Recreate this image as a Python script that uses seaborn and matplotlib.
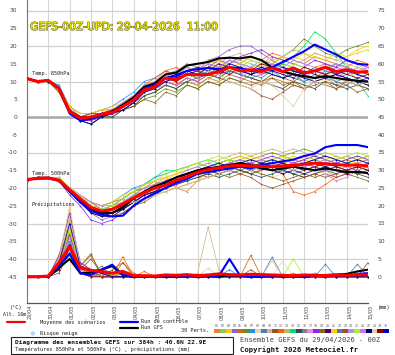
import matplotlib
matplotlib.use('Agg')
import matplotlib.pyplot as plt
import seaborn as sns
from matplotlib.lines import Line2D
from matplotlib.patches import Rectangle
import matplotlib.patheffects as pe

# ---------------- data ----------------
HOURS = list(range(0, 385, 12))
DATES = ['29/04', '30/04', '01/05', '02/05', '03/05', '04/05', '05/05', '06/05', '07/05',
         '08/05', '09/05', '10/05', '11/05', '12/05', '13/05', '14/05', '15/05']
MEMBERS = ['%02d' % i for i in range(1, 31)]
PERT_COLORS = ['#f08030', '#90c860', '#f0d000', '#9060d0', '#d06818', '#6b8e23', '#1e90ff', '#e8d8a8',
               '#4682b4', '#d2b48c', '#8b5a2b', '#ff6010', '#c8b860', '#00e070', '#2f4f4f', '#808080',
               '#ee82ee', '#8a2be2', '#8b6914', '#4b0082', '#ffd000', '#5080b0', '#a0522d', '#b090f0',
               '#a8f030', '#da70d6', '#000080', '#e0d0a0', '#8b0000', '#0000cd']

MEAN_850 = [10.8, 10.0, 10.3, 8.0, 1.5, -0.3, 0.0, 0.8, 1.2, 3.0, 4.8, 7.6, 8.5, 11.0, 10.5, 12.0, 11.9,
            12.0, 12.8, 14.0, 13.0, 13.3, 12.8, 13.8, 12.8, 13.8, 12.4, 13.0, 14.0, 12.8, 13.3, 12.6, 12.8]
CTRL_850 = [10.8, 10.0, 10.3, 8.2, 1.0, -1.0, -0.5, 0.5, 1.0, 3.0, 5.0, 8.0, 9.0, 11.0, 11.5, 13.0, 13.5,
            13.8, 13.5, 14.0, 13.8, 13.0, 13.2, 14.0, 15.5, 17.0, 18.5, 20.4, 19.0, 17.6, 16.0, 15.0, 14.7]
GFS_850 = [10.8, 10.0, 10.3, 8.0, 1.5, 0.0, -0.5, 0.5, 1.5, 3.5, 5.5, 8.5, 9.5, 12.0, 12.5, 14.5, 15.0,
           15.5, 16.5, 16.7, 16.5, 17.0, 16.0, 14.0, 12.8, 12.0, 11.5, 11.0, 11.5, 11.0, 10.5, 10.2, 10.0]

MEAN_500 = [-17.6, -17.3, -17.2, -17.8, -20.5, -23.0, -25.5, -26.5, -26.0, -24.5, -22.8, -21.3, -20.0,
            -19.2, -17.8, -16.8, -15.6, -14.8, -14.3, -13.8, -13.6, -13.8, -13.9, -14.0, -13.8, -13.6,
            -13.3, -13.0, -13.2, -13.4, -13.6, -13.5, -13.8]
CTRL_500 = [-17.6, -17.3, -17.2, -18.0, -21.0, -24.0, -26.5, -27.5, -28.0, -27.8, -25.0, -23.0, -21.5,
            -20.0, -18.5, -17.5, -16.0, -15.5, -15.0, -14.5, -14.0, -14.5, -13.5, -13.0, -12.5, -12.0,
            -11.0, -10.3, -8.5, -7.9, -7.9, -7.9, -8.5]
GFS_500 = [-17.6, -17.3, -17.2, -17.8, -20.5, -23.5, -26.0, -27.0, -27.0, -25.5, -23.0, -21.0, -19.5,
           -18.5, -17.0, -16.0, -15.0, -14.5, -14.0, -13.5, -13.0, -13.5, -14.5, -15.0, -14.5, -14.0,
           -14.5, -15.0, -14.5, -15.0, -15.5, -15.5, -15.8]

MEAN_PRECIP = [0.0, 0.0, 0.2, 4.0, 8.5, 2.5, 1.8, 1.5, 1.0, 1.5, 0.3, 0.3, 0.2, 0.5, 0.4, 0.6, 0.3,
               0.5, 0.8, 0.6, 0.5, 0.7, 0.6, 0.5, 0.4, 0.3, 0.5, 0.4, 0.3, 0.5, 0.4, 0.6, 0.5]
CTRL_PRECIP = [0, 0, 0, 3.0, 6.5, 1.0, 0.5, 2.0, 3.4, 0.5, 0, 0, 0, 0.2, 0, 0, 0.5, 0.3, 0.2, 5.0,
               0.3, 0, 0.2, 0, 0.5, 0, 0, 0.3, 0, 0.5, 0.2, 0.8, 1.0]
GFS_PRECIP = [0, 0, 0, 2.5, 5.0, 1.0, 1.2, 2.0, 3.0, 0.4, 0, 0, 0.2, 0, 0, 0.3, 0, 0.2, 0, 0.5, 0.3,
              0, 0, 0.4, 0, 0.2, 0, 0.3, 0.5, 0.6, 0.8, 1.5, 2.0]

T850_PERTS = [
    [11, 10, 10, 8, 3, 0, 1, 2, 2, 4, 6, 9, 10, 13, 11, 13, 12, 14, 13, 15, 14, 12, 13, 15, 14, 13, 12, 14, 15, 13, 12, 14, 13],
    [11, 10, 10, 9, 2, -1, 0, 1, 2, 3, 5, 8, 8, 10, 11, 12, 13, 12, 14, 15, 16, 15, 14, 13, 15, 14, 13, 12, 14, 15, 13, 12, 11],
    [11, 10, 10, 8, 2, 0, 0, 1, 1, 3, 5, 7, 9, 11, 10, 13, 12, 14, 15, 13, 14, 16, 15, 14, 15, 17, 16, 18, 17, 16, 17, 18, 19],
    [11, 10, 10, 8, 1, -1, -2, 0, 1, 2, 4, 7, 9, 11, 12, 14, 13, 16, 17, 19, 20, 20, 18, 16, 14, 13, 12, 13, 12, 14, 13, 12, 11],
    [11, 10, 10, 8, 2, 0, 1, 1, 2, 3, 5, 8, 9, 10, 9, 10, 9, 11, 10, 12, 11, 10, 9, 11, 10, 9, 8, 10, 11, 9, 10, 9, 8],
    [11, 10, 10, 7, 1, -1, 0, 0, 0, 2, 3, 5, 6, 8, 7, 9, 8, 10, 9, 11, 10, 12, 13, 15, 17, 19, 22, 20, 18, 17, 19, 20, 21],
    [11, 10, 10, 9, 3, 1, 1, 2, 3, 5, 7, 10, 11, 13, 12, 15, 14, 13, 14, 16, 15, 14, 13, 15, 14, 13, 12, 14, 13, 15, 14, 13, 12],
    [11, 10, 10, 8, 2, 0, 0, 1, 2, 3, 6, 9, 10, 12, 11, 13, 14, 12, 13, 14, 12, 11, 10, 9, 8, 10, 9, 11, 10, 12, 11, 10, 9],
    [11, 10, 10, 8, 2, -1, -1, 0, 1, 3, 4, 7, 8, 11, 10, 12, 11, 13, 12, 14, 13, 12, 11, 13, 12, 11, 10, 12, 11, 10, 9, 11, 10],
    [11, 10, 10, 8, 3, 0, 1, 2, 2, 4, 5, 8, 10, 12, 13, 15, 14, 16, 15, 17, 18, 16, 15, 17, 16, 15, 16, 18, 17, 16, 15, 14, 13],
    [11, 10, 10, 8, 1, -1, 0, 1, 1, 2, 4, 6, 7, 9, 8, 10, 9, 11, 12, 13, 12, 11, 10, 12, 11, 10, 12, 11, 13, 12, 14, 13, 12],
    [11, 10, 10, 8, 2, 0, 0, 1, 2, 4, 6, 9, 11, 13, 14, 12, 13, 15, 14, 16, 15, 17, 16, 18, 17, 16, 15, 17, 16, 15, 14, 16, 15],
    [11, 10, 10, 8, 2, 0, 0, 1, 1, 3, 5, 7, 8, 9, 8, 10, 9, 11, 10, 12, 13, 14, 15, 16, 17, 19, 18, 16, 15, 14, 16, 15, 13],
    [11, 10, 10, 8, 2, -1, 0, 1, 2, 3, 5, 8, 9, 11, 10, 12, 11, 13, 12, 13, 14, 13, 12, 13, 15, 17, 20, 24, 22, 18, 14, 10, 6],
    [11, 10, 10, 8, 1, -1, -2, 0, 0, 2, 3, 6, 7, 9, 8, 10, 11, 12, 11, 13, 12, 11, 10, 9, 8, 10, 9, 8, 10, 9, 8, 9, 10],
    [11, 10, 10, 8, 2, 0, 1, 1, 2, 3, 5, 8, 9, 11, 10, 12, 13, 12, 14, 13, 12, 14, 13, 12, 11, 13, 12, 13, 12, 11, 12, 13, 12],
    [11, 10, 10, 8, 2, 0, 0, 1, 2, 4, 6, 8, 10, 12, 11, 14, 13, 15, 14, 16, 15, 13, 14, 15, 13, 12, 14, 13, 15, 14, 13, 12, 14],
    [11, 10, 10, 8, 1, -1, -1, 0, 1, 2, 4, 7, 8, 10, 11, 13, 12, 14, 16, 15, 17, 18, 19, 17, 16, 15, 14, 16, 15, 14, 16, 15, 14],
    [11, 10, 10, 7, 1, -1, 0, 0, 1, 2, 3, 5, 4, 7, 6, 9, 8, 10, 9, 11, 10, 9, 10, 11, 9, 10, 8, 9, 10, 8, 9, 7, 8],
    [11, 10, 10, 8, 2, 0, 0, 1, 2, 3, 5, 8, 9, 11, 12, 13, 14, 13, 15, 14, 13, 12, 14, 13, 12, 11, 13, 12, 11, 12, 11, 10, 11],
    [11, 10, 10, 8, 3, 1, 1, 2, 3, 4, 6, 9, 10, 12, 13, 14, 13, 15, 16, 14, 15, 17, 16, 15, 17, 16, 18, 17, 16, 18, 17, 19, 20],
    [11, 10, 10, 8, 2, 0, 0, 1, 1, 3, 5, 7, 8, 10, 9, 11, 10, 12, 11, 13, 12, 11, 12, 13, 11, 12, 10, 11, 12, 10, 11, 10, 9],
    [11, 10, 10, 8, 2, 0, 1, 1, 2, 3, 5, 8, 9, 10, 9, 11, 10, 12, 11, 10, 9, 8, 6, 5, 7, 9, 8, 10, 9, 8, 10, 9, 8],
    [11, 10, 10, 8, 2, 0, 0, 1, 2, 4, 6, 9, 10, 12, 13, 14, 13, 15, 14, 16, 15, 14, 16, 15, 14, 16, 15, 14, 13, 15, 14, 13, 14],
    [11, 10, 10, 8, 2, 0, 0, 1, 2, 3, 5, 8, 9, 11, 10, 12, 12, 14, 13, 15, 14, 16, 15, 14, 13, 15, 14, 13, 14, 12, 13, 12, 11],
    [11, 10, 10, 8, 2, -1, 0, 1, 1, 3, 5, 7, 8, 10, 9, 11, 10, 12, 13, 12, 11, 13, 12, 14, 13, 12, 11, 13, 12, 11, 13, 12, 11],
    [11, 10, 10, 8, 1, -1, -2, 0, 1, 2, 4, 7, 8, 10, 11, 12, 11, 13, 12, 14, 13, 12, 13, 12, 11, 12, 11, 10, 11, 12, 11, 10, 9],
    [11, 10, 10, 8, 2, 0, 0, 1, 2, 3, 5, 8, 9, 11, 10, 12, 11, 13, 12, 10, 9, 8, 10, 9, 6, 3, 8, 10, 9, 11, 10, 9, 10],
    [11, 10, 10, 8, 2, 0, 0, 1, 2, 3, 5, 8, 9, 11, 10, 12, 13, 14, 13, 12, 14, 13, 15, 14, 13, 12, 14, 13, 12, 13, 12, 11, 12],
    [11, 10, 10, 8, 2, -1, 0, 1, 1, 3, 5, 8, 9, 11, 12, 13, 12, 14, 13, 15, 14, 13, 14, 13, 14, 13, 12, 13, 14, 12, 13, 12, 11],
]

T500_PERTS = [
    [-18, -17, -17, -18, -20, -22, -24, -26, -25, -23, -21, -20, -18, -17, -20, -21, -18, -15, -14, -13, -12, -13, -12, -13, -14, -13, -12, -11, -12, -13, -12, -13, -12],
    [-18, -17, -17, -18, -21, -23, -26, -27, -26, -24, -22, -21, -19, -18, -17, -16, -15, -14, -13, -14, -13, -12, -13, -14, -13, -12, -13, -14, -13, -12, -13, -14, -15],
    [-18, -17, -17, -18, -20, -23, -25, -26, -25, -24, -22, -20, -19, -18, -16, -15, -14, -15, -14, -13, -12, -11, -12, -13, -12, -11, -12, -13, -12, -11, -12, -13, -12],
    [-18, -17, -17, -18, -21, -24, -27, -29, -28, -26, -24, -22, -21, -20, -18, -17, -16, -15, -14, -13, -14, -15, -14, -13, -14, -15, -14, -13, -14, -15, -14, -15, -16],
    [-18, -17, -17, -18, -20, -22, -24, -25, -24, -23, -21, -20, -19, -18, -17, -16, -15, -14, -15, -14, -15, -16, -15, -14, -15, -14, -13, -14, -15, -14, -15, -14, -15],
    [-18, -17, -17, -18, -21, -23, -26, -27, -27, -25, -23, -22, -20, -19, -18, -16, -15, -14, -13, -12, -11, -12, -11, -10, -11, -10, -9, -10, -11, -12, -11, -12, -13],
    [-18, -17, -17, -17, -20, -22, -24, -25, -24, -22, -20, -19, -17, -16, -15, -14, -13, -14, -13, -12, -13, -14, -13, -12, -13, -14, -13, -12, -13, -12, -13, -12, -11],
    [-18, -17, -17, -18, -21, -23, -25, -27, -27, -26, -24, -22, -21, -19, -18, -17, -16, -15, -16, -15, -14, -15, -16, -17, -16, -15, -14, -15, -14, -15, -16, -15, -14],
    [-18, -17, -17, -18, -20, -23, -25, -26, -26, -25, -23, -21, -20, -19, -18, -17, -15, -14, -13, -14, -15, -14, -13, -14, -15, -16, -15, -14, -13, -14, -15, -14, -13],
    [-18, -17, -17, -18, -21, -24, -26, -27, -26, -24, -23, -21, -20, -18, -17, -16, -15, -14, -13, -12, -13, -12, -11, -12, -13, -12, -11, -12, -13, -12, -11, -12, -13],
    [-18, -17, -17, -18, -20, -23, -25, -26, -27, -26, -24, -23, -21, -20, -19, -18, -17, -16, -15, -14, -15, -16, -15, -14, -15, -16, -17, -16, -15, -14, -15, -16, -15],
    [-18, -17, -17, -18, -20, -22, -24, -26, -25, -23, -21, -19, -18, -20, -19, -17, -16, -15, -14, -13, -14, -13, -14, -13, -16, -21, -22, -21, -19, -17, -16, -15, -14],
    [-18, -17, -17, -18, -21, -23, -25, -26, -25, -24, -22, -20, -19, -17, -16, -15, -14, -13, -12, -11, -10, -11, -10, -9, -10, -9, -10, -11, -10, -11, -12, -11, -12],
    [-18, -17, -17, -17, -20, -22, -25, -26, -25, -23, -21, -19, -17, -15, -15, -14, -13, -12, -13, -12, -13, -12, -13, -12, -11, -12, -13, -12, -11, -12, -13, -12, -11],
    [-18, -17, -17, -18, -21, -24, -26, -28, -27, -26, -24, -22, -21, -20, -19, -18, -17, -16, -17, -16, -15, -16, -17, -16, -15, -16, -17, -16, -15, -16, -15, -16, -17],
    [-18, -17, -17, -18, -20, -23, -25, -27, -26, -24, -23, -21, -20, -19, -17, -16, -15, -14, -15, -14, -13, -14, -15, -14, -13, -14, -13, -14, -13, -14, -15, -14, -13],
    [-18, -17, -17, -18, -21, -23, -26, -27, -26, -25, -23, -21, -20, -18, -17, -16, -15, -14, -13, -14, -13, -12, -13, -14, -13, -12, -13, -14, -15, -17, -16, -14, -15],
    [-18, -17, -17, -18, -22, -25, -29, -30, -29, -27, -25, -23, -22, -20, -19, -17, -16, -15, -14, -13, -12, -13, -12, -11, -12, -13, -12, -11, -12, -13, -12, -11, -12],
    [-18, -17, -17, -18, -21, -24, -27, -28, -28, -27, -25, -24, -22, -21, -20, -19, -18, -17, -16, -17, -16, -15, -16, -17, -18, -17, -16, -17, -16, -17, -16, -17, -18],
    [-18, -17, -17, -18, -21, -24, -26, -28, -28, -26, -24, -22, -21, -20, -18, -17, -16, -15, -14, -15, -14, -13, -14, -15, -14, -13, -14, -13, -14, -13, -14, -15, -14],
    [-18, -17, -17, -17, -20, -22, -24, -25, -24, -22, -21, -19, -18, -17, -16, -14, -13, -14, -13, -12, -11, -12, -13, -12, -11, -12, -11, -12, -11, -12, -13, -12, -11],
    [-18, -17, -17, -18, -20, -23, -25, -26, -26, -24, -22, -21, -19, -18, -17, -16, -15, -14, -15, -14, -13, -14, -13, -14, -15, -14, -13, -14, -15, -14, -13, -14, -15],
    [-18, -17, -17, -18, -21, -23, -26, -27, -27, -26, -24, -22, -21, -20, -18, -17, -16, -17, -16, -15, -16, -17, -19, -20, -19, -18, -17, -16, -17, -16, -15, -16, -15],
    [-18, -17, -17, -18, -20, -22, -24, -25, -25, -24, -22, -20, -19, -18, -17, -15, -14, -13, -14, -13, -12, -13, -12, -13, -14, -13, -14, -13, -12, -13, -14, -13, -12],
    [-18, -17, -17, -18, -21, -23, -25, -26, -25, -23, -21, -19, -18, -16, -15, -14, -13, -12, -11, -12, -13, -12, -13, -12, -13, -12, -11, -12, -11, -12, -11, -10, -11],
    [-18, -17, -17, -18, -20, -23, -25, -27, -26, -25, -23, -22, -20, -19, -17, -16, -15, -14, -15, -14, -13, -14, -15, -14, -13, -14, -15, -14, -16, -18, -17, -15, -14],
    [-18, -17, -17, -18, -21, -24, -27, -28, -27, -26, -24, -22, -21, -19, -18, -17, -16, -15, -16, -15, -14, -15, -14, -15, -16, -15, -16, -15, -14, -15, -16, -15, -16],
    [-18, -17, -17, -18, -20, -22, -25, -26, -26, -25, -24, -23, -22, -21, -20, -19, -18, -17, -16, -15, -14, -15, -14, -13, -14, -15, -14, -15, -16, -15, -14, -15, -14],
    [-18, -17, -17, -18, -21, -24, -26, -27, -27, -25, -23, -21, -20, -19, -18, -16, -15, -14, -15, -14, -13, -14, -13, -14, -13, -14, -15, -14, -13, -14, -15, -14, -15],
    [-18, -17, -17, -18, -21, -23, -26, -27, -26, -25, -23, -21, -20, -18, -17, -16, -15, -14, -13, -14, -13, -12, -13, -12, -13, -14, -13, -12, -11, -12, -13, -12, -13],
]

PRECIP_PERTS = [
    [0, 0, 0, 3, 12, 2, 1, 0, 0, 1, 0, 0, 0, 0, 0, 0, 0, 0, 0, 0, 0, 0, 0, 0, 0, 0, 0, 1, 0, 0, 0, 0, 0],
    [0, 0, 0, 5, 15, 3, 0, 1, 0, 0, 0, 0, 0, 0, 0, 0, 0, 0, 1, 0, 0, 0, 0, 0, 0, 0, 0, 0, 0, 0, 0, 0, 0],
    [0, 0, 0, 4, 19, 2, 1, 0, 1, 0, 0, 0, 0, 0, 0, 0, 0, 0, 0, 0, 0, 0, 0, 0, 0, 0, 0, 0, 0, 0, 0, 0, 0],
    [0, 0, 0, 2, 10, 4, 2, 1, 0, 0, 0, 0, 0, 0, 0, 0, 0, 0, 0, 0, 0, 0, 1, 0, 0, 0, 0, 0, 0, 0, 0, 0, 0],
    [0, 0, 0, 6, 14, 3, 6, 1, 0, 4, 1, 0, 0, 0, 0, 0, 0, 0, 0, 0, 0, 6, 0, 0, 0, 0, 0, 0, 0, 0, 0, 0, 0],
    [0, 0, 0, 3, 9, 2, 1, 2, 0, 0, 0, 0, 0, 0, 0, 0, 0, 0, 0, 0, 0, 0, 0, 0, 0, 0, 0, 0, 0, 0, 0, 0, 0],
    [0, 0, 0, 4, 11, 1, 2, 0, 0, 0, 0, 0, 0, 0, 0, 0, 0, 0, 0, 2, 0, 0, 0, 0, 0, 0, 0, 0, 0, 0, 0, 1, 0],
    [0, 0, 0, 2, 8, 5, 1, 0, 0, 0, 0, 0, 0, 0, 0, 0, 0, 0, 0, 0, 0, 0, 0, 0, 4.5, 0, 0, 0, 0, 0, 0, 0, 0],
    [0, 0, 0, 5, 13, 2, 1, 0, 0, 1, 0, 0, 0, 0, 0, 0, 0, 0, 0, 0, 0, 0, 0, 5.5, 0, 0, 0, 0, 0, 0, 0, 3.5, 0],
    [0, 0, 0, 3, 17, 3, 0, 1, 0, 0, 0, 0, 0, 0, 0, 0, 1, 14, 2, 0, 0, 0, 0, 0, 0, 0, 0, 0, 0, 0, 0, 0, 0],
    [0, 0, 0, 1, 7, 2, 5, 1, 0, 0, 0, 0, 0, 0, 0, 0, 0, 0, 0, 0, 0, 2, 0, 0, 0, 0, 0, 0, 0, 0, 0, 0, 4],
    [0, 0, 0, 2, 9, 1, 0, 0, 0, 5.7, 0, 1.5, 0, 0, 0, 0, 0, 0, 0, 0, 0, 0, 0, 0, 0, 0, 0, 0, 0, 0, 0, 0, 0],
    [0, 0, 0, 4, 16, 2, 1, 0, 0, 0, 0, 0, 0, 0, 0, 0, 0, 0, 0, 0, 0, 0, 1, 0, 0, 0, 0, 0, 0, 0, 0, 0, 0],
    [0, 0, 0, 3, 10, 1, 0, 0, 0, 0, 0, 0, 0, 0, 0, 0, 0, 0, 0, 0, 0, 0, 0, 0, 0, 1, 0, 0, 0, 0, 0, 0, 0],
    [0, 0, 0, 5, 12, 2, 1, 0, 0, 0, 0, 0, 0, 0, 0, 0, 0, 0, 0, 0, 0, 0, 0, 0, 0, 0, 0, 0, 0, 0, 0, 0, 0],
    [0, 0, 0, 2, 6, 1, 0, 1, 0, 0, 0, 0, 0, 0, 0, 0, 0, 0, 0, 0, 0, 0, 0, 0, 0, 0, 0, 0, 0, 0, 0, 0, 0],
    [0, 0, 0, 3, 11, 2, 1, 0, 0, 0, 0, 0, 0, 0, 0, 0, 0, 0, 0, 0, 0, 0, 0, 0, 0, 0, 0, 0, 0, 0, 0, 0, 0],
    [0, 0, 0, 6, 18, 4, 2, 1, 0, 0, 0, 0, 0, 0, 0, 0, 0, 0, 0, 0, 0, 0, 0, 0, 0, 0, 0, 0, 0, 0, 0, 0, 0],
    [0, 0, 0, 4, 9, 3, 6.5, 0, 2, 4, 0, 0, 0, 0, 0, 0, 0, 0, 0, 0, 0, 0, 0, 0, 0, 0, 0, 0, 0, 0, 0, 0, 0],
    [0, 0, 0, 2, 8, 1, 1, 0, 0, 0, 0, 0, 0, 0, 0, 0, 0, 0, 0, 0, 0, 0, 0, 0, 0, 0, 0, 0, 0, 0, 0, 0, 0],
    [0, 0, 0, 5, 14, 2, 0, 0, 0, 0, 0, 0, 0, 0, 0, 0, 0, 0, 0, 0, 0, 0, 0, 0, 0, 0, 0, 0, 0, 0, 0, 0, 0],
    [0, 0, 0, 3, 10, 1, 1, 3, 0, 0, 0, 0, 0, 0, 0, 0, 0, 0, 0, 0, 0, 0, 0, 0, 0, 0, 0, 0, 3.5, 0, 0, 0, 0],
    [0, 0, 0, 4, 12, 3, 2, 0, 0, 0, 0, 0, 0, 0, 0, 0, 0, 0, 0, 0, 0, 0, 0, 0, 0, 0, 0, 0, 0, 0, 0, 0, 0],
    [0, 0, 0, 2, 7, 1, 0, 0, 0, 0, 0, 0, 0, 0, 0, 0, 0, 0, 0, 0, 0, 0, 0, 0, 0, 0, 0, 0, 0, 0, 0, 0, 0],
    [0, 0, 0, 3, 13, 2, 1, 0, 0, 0, 0, 0, 0, 0, 0, 0, 0, 0, 0, 0, 0, 0, 0, 0, 0, 5, 0, 0, 0, 0, 0, 0, 0],
    [0, 0, 0, 4, 11, 2, 0, 0, 0, 0, 0, 0, 0, 0, 0, 0, 0, 0, 0, 0, 0, 0, 0, 0, 0, 0, 0, 0, 0, 0, 0, 0, 0],
    [0, 0, 0, 3, 9, 1, 1, 0, 0, 0, 0, 0, 0, 0, 0, 0, 0, 0, 0, 0, 0, 0, 0, 0, 0, 0, 0, 0, 0, 0, 0, 0, 0],
    [0, 0, 0, 5, 20, 3, 1, 0, 0, 0, 0, 0, 0, 0, 0, 0, 0, 2.5, 0, 0, 0, 0, 0, 4.5, 0, 0, 0, 0, 0, 0, 0, 0, 0],
    [0, 0, 0, 2, 8, 1, 0, 0, 0, 0, 0, 0, 0, 0, 0, 0, 0, 0, 0, 0, 0, 0, 0, 0, 0, 0, 0, 0, 0, 0, 0, 0, 0],
    [0, 0, 0, 4, 15, 3, 2, 1, 0, 0, 0, 0, 0, 0, 0, 0, 0, 0, 0, 0, 0, 0, 0, 0, 0, 0, 0, 0, 0, 0, 0, 0, 0],
]

# ---------------- figure ----------------
sns.set_theme(style='white')
plt.rcParams['font.family'] = ['DejaVu Sans']

W, H = 395, 355
PX_PER_UNIT = 3.55
Y0 = 117  # pixel row of 0 degC
YTOP = Y0 / PX_PER_UNIT
YBOT = -(303 - Y0) / PX_PER_UNIT

fig = plt.figure(figsize=(W / 100, H / 100), dpi=100)
fig.patch.set_facecolor('white')
ax = fig.add_axes([27 / W, 1 - 303 / H, (368 - 27) / W, 303 / H])
ax.set_facecolor('white')
ax.set_xlim(0, 384)
ax.set_ylim(YBOT, YTOP)

# grid
for h in range(0, 385, 24):
    ax.axvline(h, color='#d6d6d6', lw=0.8, zorder=0)
for v in [-40, -30, -20, -10, 10, 20, 30]:
    ax.axhline(v, color='#d0d0d0', lw=0.9, zorder=0)
ax.axhline(0, color='#a8a8a8', lw=1.8, zorder=0.5)

ax2 = ax.twinx()
ax2.set_ylim(YBOT + 45, YTOP + 45)
ax2.patch.set_visible(False)


def draw(axis, values, color, lw, z, marker=True):
    n = len(values)
    kw = dict(marker='o', markersize=1.2, markeredgewidth=0) if marker else {}
    sns.lineplot(x=HOURS[:n], y=values, color=color, lw=lw, ax=axis, zorder=z, legend=False, **kw)


for i, col in enumerate(PERT_COLORS):
    draw(ax, T850_PERTS[i], col, 0.55, 2)
    draw(ax, T500_PERTS[i], col, 0.55, 2)
    draw(ax2, PRECIP_PERTS[i], col, 0.55, 2)

draw(ax, GFS_850, 'black', 1.5, 3, False)
draw(ax, GFS_500, 'black', 1.5, 3, False)
draw(ax2, GFS_PRECIP, 'black', 1.5, 3, False)
draw(ax, CTRL_850, '#0000ff', 1.5, 4, False)
draw(ax, CTRL_500, '#0000ff', 1.5, 4, False)
draw(ax2, CTRL_PRECIP, '#0000ff', 1.5, 4, False)
draw(ax, MEAN_850, '#ff0000', 2.2, 5, False)
draw(ax, MEAN_500, '#ff0000', 2.2, 5, False)
draw(ax2, MEAN_PRECIP, '#ff0000', 2.2, 5, False)

# ticks
ax.set_yticks(list(range(-45, 31, 5)))
ax.set_yticklabels([str(v) for v in range(-45, 31, 5)])
ax2.set_yticks(list(range(0, 76, 5)))
ax2.set_yticklabels([str(v) for v in range(0, 76, 5)])
ax.set_xticks(list(range(0, 385, 24)))
ax.set_xticklabels(DATES, rotation=90, ha='left')
ax.tick_params(axis='y', length=0, pad=7, labelsize=4.3, labelcolor='#444444')
ax2.tick_params(axis='y', length=0, pad=7, labelsize=4.3, labelcolor='#444444')
ax.tick_params(axis='x', length=0, pad=1.5, labelsize=3.6, labelcolor='#444444')
ax.set_xlabel('')
ax.set_ylabel('')
ax2.set_ylabel('')
for a in (ax, ax2):
    for s in ('top', 'right', 'left', 'bottom'):
        a.spines[s].set_visible(False)
ax.spines['left'].set_visible(True)
ax.spines['left'].set_color('#777777')
ax.spines['left'].set_linewidth(0.8)
ax.spines['bottom'].set_visible(True)
ax.spines['bottom'].set_color('#555555')
ax.spines['bottom'].set_linewidth(0.9)


def fx(px):
    return px / W


def fy(py):
    return 1 - py / H


MONO = 'DejaVu Sans Mono'
# inside-plot labels
fig.text(fx(32), fy(74), 'Temp. 850hPa', family=MONO, fontsize=3.8, va='center', ha='left', color='#222222')
fig.text(fx(32), fy(173), 'Temp. 500hPa', family=MONO, fontsize=3.8, va='center', ha='left', color='#222222')
fig.text(fx(32), fy(204), 'Précipitations', family=MONO, fontsize=3.8, va='center', ha='left', color='#222222')

# title
fig.text(fx(30), fy(27), 'GEFS-00Z-UPD: 29-04-2026  11:00', fontsize=7.8, color='#f4ee00', va='center', ha='left',
         path_effects=[pe.withStroke(linewidth=0.8, foreground='#6a6a10')])

# axis unit labels
fig.text(fx(10), fy(307), '(°C)', family=MONO, fontsize=3.8, va='center', ha='left', color='#222222')
fig.text(fx(3), fy(314), 'Alt. 16m', family=MONO, fontsize=3.5, va='center', ha='left', color='#222222')
fig.text(fx(378), fy(308), '(mm)', family=MONO, fontsize=3.8, va='center', ha='left', color='#222222')

# legend
fig.add_artist(Line2D([fx(7), fx(25)], [fy(322), fy(322)], color='#ff0000', lw=1.6, transform=fig.transFigure))
fig.text(fx(40), fy(322), 'Moyenne des scénarios', family=MONO, fontsize=3.8, va='center', ha='left', color='#222222')
fig.add_artist(Line2D([fx(120), fx(138)], [fy(322), fy(322)], color='#0000ff', lw=1.6, transform=fig.transFigure))
fig.text(fx(141), fy(321.5), 'Run de contrôle', family=MONO, fontsize=3.8, va='center', ha='left', color='#222222')
fig.add_artist(Line2D([fx(120), fx(138)], [fy(328), fy(328)], color='black', lw=1.6, transform=fig.transFigure))
fig.text(fx(141), fy(327.5), 'Run GFS', family=MONO, fontsize=3.8, va='center', ha='left', color='#222222')
fig.text(fx(32), fy(334), '\u2744', fontsize=5, va='center', ha='center', color='#7ab8f0')
fig.text(fx(40), fy(334), 'Risque neige', family=MONO, fontsize=3.8, va='center', ha='left', color='#222222')
fig.text(fx(181), fy(331), '30 Perts.', family=MONO, fontsize=3.8, va='center', ha='left', color='#222222')

sw = (389 - 214) / 30.0
for i, (m, col) in enumerate(zip(MEMBERS, PERT_COLORS)):
    x0 = 214 + i * sw
    fig.add_artist(Rectangle((fx(x0), fy(333)), sw / W, 4 / H, transform=fig.transFigure,
                             facecolor=col, edgecolor='none'))
    fig.text(fx(x0 + sw / 2), fy(326), m, family=MONO, fontsize=2.3, va='center', ha='center', color='#555555')

# info box
fig.add_artist(Rectangle((fx(11), fy(354)), (233 - 11) / W, (354 - 337) / H, transform=fig.transFigure,
                         facecolor='white', edgecolor='#222222', lw=0.8))
fig.text(fx(15), fy(342.5), 'Diagramme des ensembles GEFS sur 384h : 40.6N 22.9E', family=MONO,
         fontsize=4.4, fontweight='bold', va='center', ha='left', color='#111111')
fig.text(fx(15), fy(349.5), 'Températures 850hPa et 500hPa (°C) , précipitations (mm)', family=MONO,
         fontsize=3.8, va='center', ha='left', color='#222222')
fig.text(fx(240), fy(340), 'Ensemble GEFS du 29/04/2026 - 00Z', family=MONO, fontsize=5.0,
         va='center', ha='left', color='#444444')
fig.text(fx(240), fy(350), 'Copyright 2026 Meteociel.fr', family=MONO, fontsize=5.2, fontweight='bold',
         va='center', ha='left', color='#111111')

fig.savefig('out.png', dpi=100, facecolor='white')
